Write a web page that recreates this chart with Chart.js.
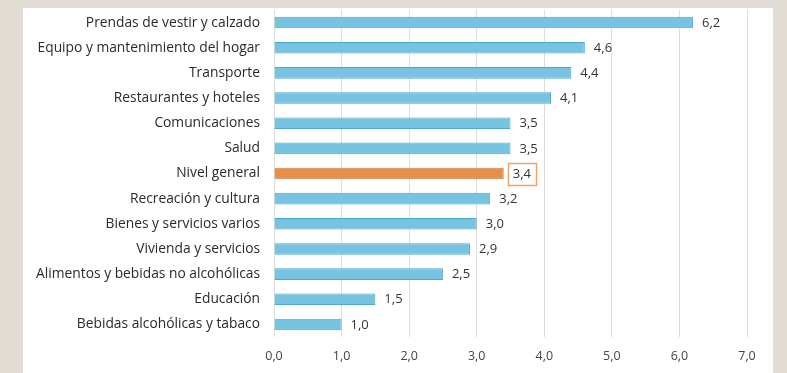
<!DOCTYPE html>
<html><head><meta charset="utf-8">
<script src="https://cdn.jsdelivr.net/npm/chart.js@4"></script>
<style>
html,body{margin:0;padding:0;background:#e1ddd4;width:787px;height:373px;overflow:hidden}
#panel{position:absolute;left:23px;top:8px;width:750px;height:365px;background:#fff}
canvas{display:block}
</style></head><body>
<div id="panel"><canvas id="c" width="750" height="365"></canvas></div>
<script>
const categories = ["Prendas de vestir y calzado","Equipo y mantenimiento del hogar","Transporte","Restaurantes y hoteles","Comunicaciones","Salud","Nivel general","Recreación y cultura","Bienes y servicios varios","Vivienda y servicios","Alimentos y bebidas no alcohólicas","Educación","Bebidas alcohólicas y tabaco"];
const values = [6.2,4.6,4.4,4.1,3.5,3.5,3.4,3.2,3.0,2.9,2.5,1.5,1.0];
const highlightIndex = 6;
const xTicks = [0,1,2,3,4,5,6,7];

const fmt = v => v.toFixed(1).replace('.', ',');
const fill = values.map((v,i)=> i===highlightIndex ? '#e98f4a' : '#76c4e1');
const border = values.map((v,i)=> i===highlightIndex ? '#c98850' : '#4ea6cc');

const labelPlugin = {
  id:'vals',
  afterDatasetsDraw(chart){
    const ctx = chart.ctx;
    const meta = chart.getDatasetMeta(0);
    ctx.save();
    ctx.font = '13px "Open Sans"';
    ctx.textBaseline = 'middle';
    ctx.textAlign = 'left';
    meta.data.forEach((bar,i)=>{
      const t = fmt(values[i]);
      const x = bar.x + 9, y = bar.y;
      if(i===highlightIndex){
        const w = ctx.measureText(t).width;
        ctx.strokeStyle = '#eea468';
        ctx.lineWidth = 1.5;
        ctx.strokeRect(Math.round(x-5)+0.5, Math.round(y-11)+0.5, Math.round(w+10), 22);
      }
      ctx.fillStyle = '#333';
      ctx.fillText(t, x, y+0.5);
    });
    ctx.restore();
  }
};

new Chart(document.getElementById('c'), {
  type:'bar',
  data:{labels:categories, datasets:[{data:values, backgroundColor:fill, borderColor:border, borderWidth:1, barPercentage:0.46, categoryPercentage:1}]},
  options:{
    indexAxis:'y', responsive:false, animation:false,
    layout:{padding:{top:2, right:0, left:0, bottom:0}},
    plugins:{legend:{display:false}, tooltip:{enabled:false}},
    scales:{
      x:{min:0,max:7, afterBuildTicks(s){s.ticks = xTicks.map(v=>({value:v}));},
        grid:{color:'#dedede', drawTicks:false}, border:{display:false},
        ticks:{callback:v=>fmt(v), color:'#444', font:{family:'"Open Sans"', size:12.5}, padding:12},
        afterFit(s){s.height = 36; s.paddingTop = 0; s.paddingBottom = 0; s.paddingRight = 26; s.paddingLeft = 0;}
      },
      y:{grid:{display:false, drawTicks:false}, border:{display:false},
        ticks:{color:'#2a2a2a', font:{family:'"Open Sans"', size:13.8}, padding:14, autoSkip:false},
        afterFit(s){s.width = 251; s.paddingTop = 0; s.paddingBottom = 0;}
      }
    }
  },
  plugins:[labelPlugin]
});
</script></body></html>
